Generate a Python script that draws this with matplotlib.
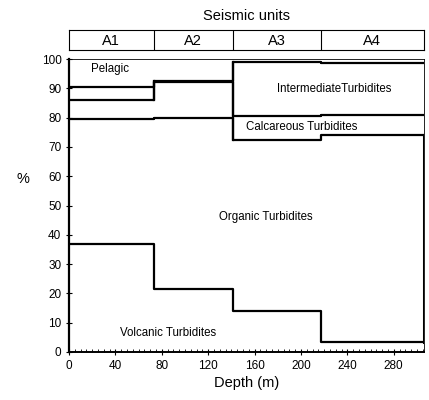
import matplotlib
matplotlib.use("Agg")
import matplotlib.pyplot as plt
from matplotlib.ticker import MultipleLocator

plt.rcParams['font.family'] = ['Liberation Sans', 'DejaVu Sans']

# unit boundaries (depth, m) and cumulative percentages per unit
edges = [0, 73, 141, 217, 306]
units = ['A1', 'A2', 'A3', 'A4']
volcanic = [37, 21.5, 14, 3.5]
organic = [79.5, 80, 72.5, 74]
calcareous = [86, 92, 80.5, 81]
intermediate = [90.5, 92.5, 99, 98.8]

labels = ['Pelagic', 'IntermediateTurbidites', 'Calcareous Turbidites',
          'Organic Turbidites', 'Volcanic Turbidites']
label_x = [35, 229, 201, 170, 85]
label_y = [96.5, 89.8, 76.8, 46, 6.5]

fig = plt.figure(figsize=(4.29, 4.0), dpi=100)
ax = fig.add_axes([0.161, 0.12, 0.827, 0.7325])

for vals in [volcanic, organic, calcareous, intermediate]:
    ax.step(edges, vals + [vals[-1]], where='post', color='black', lw=1.6)

# closing verticals of the boxes
ax.plot([edges[2], edges[2]], [organic[2], intermediate[2]], color='black', lw=1.6)
ax.plot([edges[1], edges[1]], [calcareous[0], intermediate[1]], color='black', lw=1.6)
ax.plot([edges[-1], edges[-1]], [volcanic[-1], organic[-1]], color='black', lw=2.2)

for t, x, y in zip(labels, label_x, label_y):
    ax.text(x, y, t, ha='center', va='center', fontsize=8.3)

ax.set_xlim(edges[0], edges[-1])
ax.set_ylim(0, 100)
ax.xaxis.set_major_locator(MultipleLocator(40))
ax.xaxis.set_minor_locator(MultipleLocator(5))
ax.yaxis.set_major_locator(MultipleLocator(10))
ax.tick_params(axis='both', labelsize=8.5, direction='inout', length=4, width=0.8)
ax.tick_params(axis='x', which='minor', direction='in', length=2.5, width=0.6)
ax.spines['left'].set_linewidth(1.6)
ax.spines['bottom'].set_linewidth(1.4)
ax.spines['top'].set_linewidth(0.6)
ax.spines['right'].set_linewidth(0.6)
ax.set_xlabel('Depth (m)', fontsize=10.5, labelpad=3)
ax.set_ylabel('%', fontsize=10.5, rotation=0, va='center')
ax.yaxis.set_label_coords(-0.13, 0.59)

# seismic units strip
ax2 = fig.add_axes([0.161, 0.875, 0.827, 0.05], sharex=ax)
ax2.set_ylim(0, 1)
for e in edges[1:-1]:
    ax2.axvline(e, color='black', lw=0.8)
for i, u in enumerate(units):
    ax2.text((edges[i] + edges[i + 1]) / 2, 0.45, u, ha='center', va='center', fontsize=10.5)
ax2.set_yticks([])
ax2.tick_params(axis='x', which='both', bottom=False, labelbottom=False)
for s in ax2.spines.values():
    s.set_linewidth(0.8)
fig.text(0.574, 0.96, 'Seismic units', ha='center', va='center', fontsize=10.5)

plt.savefig('out.png', dpi=100)
